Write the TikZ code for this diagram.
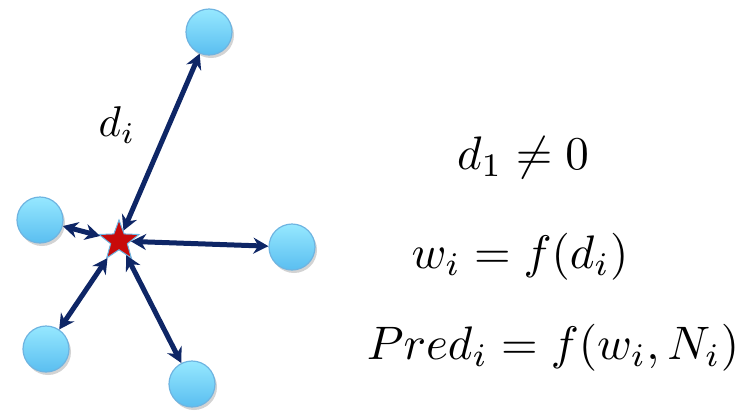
\documentclass[tikz,border=0pt]{standalone}
\usepackage{graphicx}
\usetikzlibrary{shapes.geometric,shadows,arrows.meta}
\definecolor{navy}{RGB}{14,38,102}
\definecolor{ctop}{RGB}{150,232,255}
\definecolor{cbot}{RGB}{90,190,240}
\definecolor{cedge}{RGB}{110,180,225}
\definecolor{starred}{RGB}{200,10,10}
\begin{document}
\begin{tikzpicture}[x=1pt,y=-1pt,
  pt/.style={circle,minimum size=46pt,inner sep=0pt,draw=cedge,line width=1.2pt,
    top color=ctop,bottom color=cbot,drop shadow={shadow xshift=2pt,shadow yshift=-3pt,opacity=0.35}},
  ctr/.style={star,star points=5,star point ratio=2.4,minimum size=42pt,inner sep=0pt,
    fill=starred,draw=cedge,line width=1pt},
  link/.style={navy,line width=5pt,{Stealth[length=15pt,width=16pt]}-{Stealth[length=15pt,width=16pt]}},
  eq/.style={inner sep=0pt}]
\useasboundingbox (0,0) rectangle (738,410);
\node[pt] (top) at (209,32) {};
\node[pt] (left) at (40,220) {};
\node[pt] (right) at (292,247) {};
\node[pt] (bl) at (46,349) {};
\node[pt] (bot) at (192,384) {};
\node[ctr] (s) at (119,241) {};
\draw[link] (s) -- (top);
\draw[link] (s) -- (left);
\draw[link] (s) -- (right);
\draw[link] (s) -- (bl);
\draw[link] (s) -- (bot);
\node[eq] (di) at (117,125) {\scalebox{4.3}{$d_i$}};
\node[eq] (e1) at (523,158) {\scalebox{4.7}{$d_1 \neq 0$}};
\node[eq] (e2) at (520,257) {\scalebox{4.7}{$w_i = f(d_i)$}};
\node[eq] (e3) at (553,348) {\scalebox{4.7}{$Pred_i = f(w_i, N_i)$}};
\end{tikzpicture}
\end{document}
